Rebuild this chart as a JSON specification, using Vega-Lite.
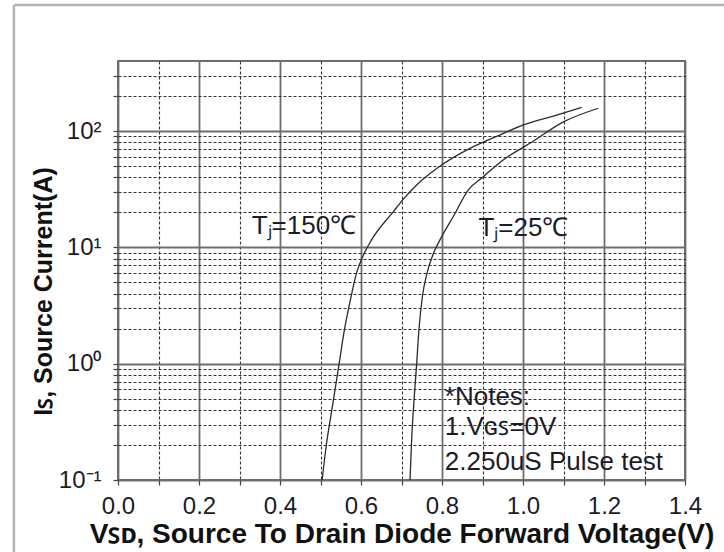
{
  "$schema": "https://vega.github.io/schema/vega-lite/v6.json",
  "width": 567,
  "height": 419,
  "autosize": "none",
  "padding": {"left": 118, "top": 61, "right": 39, "bottom": 72},
  "background": "white",
  "config": {
    "view": {"stroke": "#6e6e6e", "strokeWidth": 2},
    "font": "Liberation Sans"
  },
  "datasets": {
    "curves": [
      {"series": "150", "v": 0.504, "i": 0.1},
      {"series": "150", "v": 0.515, "i": 0.207},
      {"series": "150", "v": 0.528, "i": 0.4},
      {"series": "150", "v": 0.546, "i": 1.0},
      {"series": "150", "v": 0.559, "i": 1.95},
      {"series": "150", "v": 0.572, "i": 3.3},
      {"series": "150", "v": 0.589, "i": 6.0},
      {"series": "150", "v": 0.606, "i": 8.6},
      {"series": "150", "v": 0.626, "i": 11.6},
      {"series": "150", "v": 0.68, "i": 20.3},
      {"series": "150", "v": 0.703, "i": 25.6},
      {"series": "150", "v": 0.7375, "i": 34.4},
      {"series": "150", "v": 0.799, "i": 51},
      {"series": "150", "v": 0.869, "i": 71},
      {"series": "150", "v": 0.935, "i": 90},
      {"series": "150", "v": 1.001, "i": 113},
      {"series": "150", "v": 1.083, "i": 137},
      {"series": "150", "v": 1.145, "i": 160},
      {"series": "25", "v": 0.721, "i": 0.1},
      {"series": "25", "v": 0.725, "i": 0.22},
      {"series": "25", "v": 0.731, "i": 0.49},
      {"series": "25", "v": 0.7375, "i": 1.0},
      {"series": "25", "v": 0.743, "i": 1.95},
      {"series": "25", "v": 0.751, "i": 3.65},
      {"series": "25", "v": 0.763, "i": 6.0},
      {"series": "25", "v": 0.779, "i": 8.9},
      {"series": "25", "v": 0.795, "i": 11.6},
      {"series": "25", "v": 0.828, "i": 18.4},
      {"series": "25", "v": 0.865, "i": 31.2},
      {"series": "25", "v": 0.902, "i": 40.5},
      {"series": "25", "v": 0.951, "i": 56.4},
      {"series": "25", "v": 1.017, "i": 78.5},
      {"series": "25", "v": 1.1, "i": 120},
      {"series": "25", "v": 1.186, "i": 157}
    ],
    "labels": [
      {"label": "T\u2c7c=150\u2103", "v": 0.330, "i": 13.0},
      {"label": "T\u2c7c=25\u2103", "v": 0.890, "i": 12.4},
      {"label": "*Notes:", "v": 0.807, "i": 0.442},
      {"label": "1.V\u0262\ua731=0V", "v": 0.807, "i": 0.244},
      {"label": "2.250uS Pulse test", "v": 0.807, "i": 0.122}
    ]
  },
  "layer": [
    {
      "data": {"values": [{}]},
      "mark": {"type": "rule", "color": "#b4b4b4", "strokeWidth": 2.5},
      "encoding": {
        "x": {"datum": -0.257, "type": "quantitative"},
        "y": {"datum": 1212, "type": "quantitative"},
        "y2": {"datum": 0.0001}
      }
    },
    {
      "data": {"values": [{}]},
      "mark": {"type": "rule", "color": "#b4b4b4", "strokeWidth": 2.5},
      "encoding": {
        "x": {"datum": -0.257, "type": "quantitative"},
        "x2": {"datum": 3},
        "y": {"datum": 1212, "type": "quantitative"}
      }
    },
    {
      "data": {"name": "curves"},
      "mark": {"type": "line", "interpolate": "monotone", "color": "#2b2b2b", "strokeWidth": 1.3},
      "encoding": {
        "x": {
          "field": "v", "type": "quantitative",
          "scale": {"domain": [0, 1.4], "nice": false, "zero": false},
          "axis": {
            "title": "V\ua731\u1d05, Source To Drain Diode Forward Voltage(V)",
            "values": [0, 0.1, 0.2, 0.3, 0.4, 0.5, 0.6, 0.7, 0.8, 0.9, 1.0, 1.1, 1.2, 1.3, 1.4],
            "labelExpr": "round(datum.value*10) % 2 == 0 ? format(datum.value, '.1f') : ''",
            "labelOverlap": false,
            "labelFlush": false,
            "labelBound": false,
            "labelFont": "Liberation Sans",
            "labelFontSize": 24,
            "labelColor": "#1c1c28",
            "labelPadding": 9,
            "domain": false,
            "ticks": true,
            "tickSize": 5,
            "tickColor": "#444444",
            "tickWidth": 1.2,
            "grid": true,
            "gridColor": {"condition": {"test": "round(datum.value*10) % 2 == 1", "value": "#333333"}, "value": "#6e6e6e"},
            "gridDash": {"condition": {"test": "round(datum.value*10) % 2 == 1", "value": [3, 2]}, "value": []},
            "gridWidth": {"condition": {"test": "round(datum.value*10) % 2 == 1", "value": 1.1}, "value": 1.8},
            "titleFont": "Liberation Sans",
            "titleFontSize": 28,
            "titleFontWeight": "bold",
            "titleColor": "#111111",
            "titlePadding": 2
          }
        },
        "y": {
          "field": "i", "type": "quantitative",
          "scale": {"type": "log", "domain": [0.1, 400], "nice": false},
          "axis": {
            "title": "I\ua731, Source Current(A)",
            "values": [0.1, 0.2, 0.3, 0.4, 0.5, 0.6, 0.7, 0.8, 0.9, 1, 2, 3, 4, 5, 6, 7, 8, 9, 10, 20, 30, 40, 50, 60, 70, 80, 90, 100, 200, 300],
            "labelExpr": "abs(log(datum.value)/LN10 - round(log(datum.value)/LN10)) < 0.001 ? (round(log(datum.value)/LN10) == 2 ? '10\u00b2' : round(log(datum.value)/LN10) == 1 ? '10\u00b9' : round(log(datum.value)/LN10) == 0 ? '10\u2070' : '10\u207b\u00b9') : ''",
            "labelOverlap": false,
            "labelFlush": false,
            "labelBound": false,
            "labelFont": "Liberation Sans",
            "labelFontSize": 24,
            "labelColor": "#1c1c28",
            "labelPadding": 12,
            "domain": false,
            "ticks": true,
            "tickSize": 5,
            "tickColor": "#444444",
            "tickWidth": 1.2,
            "grid": true,
            "gridColor": {"condition": {"test": "abs(log(datum.value)/LN10 - round(log(datum.value)/LN10)) < 0.001", "value": "#6e6e6e"}, "value": "#333333"},
            "gridDash": {"condition": {"test": "abs(log(datum.value)/LN10 - round(log(datum.value)/LN10)) < 0.001", "value": []}, "value": [3, 2]},
            "gridWidth": {"condition": {"test": "abs(log(datum.value)/LN10 - round(log(datum.value)/LN10)) < 0.001", "value": 1.8}, "value": 1.1},
            "titleFont": "Liberation Sans",
            "titleFontSize": 25,
            "titleFontWeight": "bold",
            "titleColor": "#111111",
            "titleX": -62,
            "titleY": 230
          }
        },
        "detail": {"field": "series", "type": "nominal"}
      }
    },
    {
      "data": {"name": "labels"},
      "mark": {"type": "text", "font": "Liberation Sans", "fontSize": 26, "align": "left", "baseline": "alphabetic", "color": "#1c1c28"},
      "encoding": {
        "x": {"field": "v", "type": "quantitative"},
        "y": {"field": "i", "type": "quantitative"},
        "text": {"field": "label"}
      }
    }
  ]
}
